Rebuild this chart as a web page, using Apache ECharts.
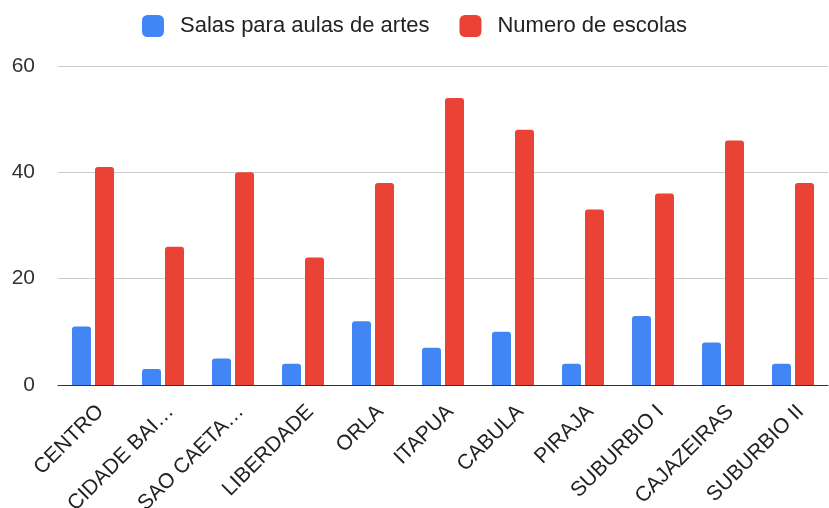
<!DOCTYPE html>
<html>
<head>
    <meta charset="utf-8">
    <title>ECharts</title>
    <script src="https://cdn.jsdelivr.net/npm/echarts@6/dist/echarts.min.js"></script>
    <style>html,body{margin:0;padding:0;background:#fff;}</style>
</head>
<body>
<div id="main" style="width: 829px;height:508px;"></div>
<script type="text/javascript">
    // dados do gráfico
    var regioes = ['CENTRO', 'CIDADE BAI…', 'SAO CAETA…', 'LIBERDADE', 'ORLA', 'ITAPUA',
        'CABULA', 'PIRAJA', 'SUBURBIO I', 'CAJAZEIRAS', 'SUBURBIO II'];
    var salasArtes = [11, 3, 5, 4, 12, 7, 10, 4, 13, 8, 4];
    var numeroEscolas = [41, 26, 40, 24, 38, 54, 48, 33, 36, 46, 38];
    var nomesSeries = ['Salas para aulas de artes', 'Numero de escolas'];

    var myChart = echarts.init(document.getElementById('main'));

    var fonte = '"Liberation Sans", Arial, sans-serif';

    var option = {
        animation: false,
        textStyle: {fontFamily: fonte},
        legend: {
            data: nomesSeries,
            top: 10,
            left: 'center',
            itemWidth: 22,
            itemHeight: 22,
            itemGap: 30,
            icon: 'roundRect',
            textStyle: {fontSize: 22, color: '#222', fontFamily: fonte, padding: [0, 0, 0, 11]}
        },
        grid: {left: 58, right: 1, top: 66, bottom: 123, containLabel: false, outerBoundsMode: 'none'},
        xAxis: {
            type: 'category',
            data: regioes,
            axisTick: {show: false},
            axisLine: {lineStyle: {color: '#333', width: 1}},
            axisLabel: {rotate: 45, fontSize: 21, color: '#222', margin: 16, interval: 0, fontFamily: fonte,
                verticalAlign: 'top'}
        },
        yAxis: {
            type: 'value',
            min: 0,
            max: 60,
            interval: 20,
            axisLabel: {fontSize: 21, color: '#333', margin: 23, fontFamily: fonte},
            splitLine: {lineStyle: {color: '#ccc'}}
        },
        series: [{
            name: nomesSeries[0],
            type: 'bar',
            data: salasArtes,
            barGap: '21%',
            barCategoryGap: '40%',
            itemStyle: {color: '#4285F4', borderRadius: [3, 3, 0, 0]}
        }, {
            name: nomesSeries[1],
            type: 'bar',
            data: numeroEscolas,
            itemStyle: {color: '#EA4335', borderRadius: [3, 3, 0, 0]}
        }]
    };

    myChart.setOption(option);
</script>
</body>
</html>
